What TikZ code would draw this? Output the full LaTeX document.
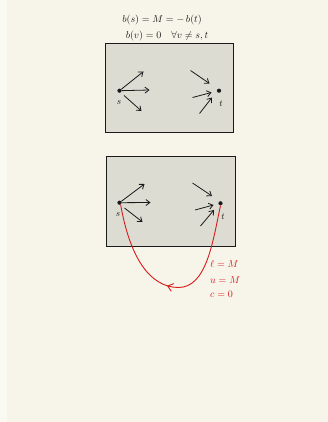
\documentclass[tikz,border=0pt]{standalone}
\usetikzlibrary{arrows.meta,decorations.markings}
\definecolor{paper}{HTML}{F7F5EA}
\definecolor{margin}{HTML}{FAF9F2}
\definecolor{boxfill}{HTML}{DCDCD3}
\definecolor{ink}{HTML}{1A1A1A}
\definecolor{redink}{HTML}{D81B1B}
\tikzset{
  panel/.style={draw=ink, line width=1pt, fill=boxfill},
  flow/.style={draw=ink, line width=0.8pt, -{Straight Barb[length=4pt,width=6pt]}},
  vertex/.style={circle, fill=ink, inner sep=0pt, minimum size=4.2pt},
  lbl/.style={font=\normalsize, text=ink, inner sep=0pt},
  redlbl/.style={font=\normalsize, text=redink, inner sep=0pt, anchor=west},
  circulation/.style={draw=redink, line width=0.9pt,
    postaction={decorate, decoration={markings,
      mark=at position 0.53 with {\arrow{Straight Barb[length=5pt,width=8pt]}}}}}
}
\begin{document}
\begin{tikzpicture}[x=1pt,y=-1pt]
  % sheet
  \fill[paper] (0,0) rectangle (328,422);
  \fill[margin] (0,0) rectangle (7,422);
  \useasboundingbox (0,0) rectangle (328,422);

  % supply / demand conditions
  \node[lbl] (eq1) at (162,20) {$b(s) = M = -\,b(t)$};
  \node[lbl] (eq2) at (167,36) {$b(v) = 0 \quad \forall v \neq s,t$};

  % upper network
  \draw[panel] (105,44) rectangle (233,133);
  \node[vertex] (s1) at (119.5,90.7) {};
  \node[vertex] (t1) at (219,90.7) {};
  \node[lbl, font=\small] (s1l) at (119,103) {$s$};
  \node[lbl, font=\small] (t1l) at (221,104) {$t$};
  \coordinate (a1) at (143.5,71.5);
  \coordinate (a2) at (149.5,90);
  \coordinate (a3) at (141.5,111);
  \draw[flow] (s1) -- (a1);
  \draw[flow] (s1) -- (a2);
  \draw[flow] (124,95.5) -- (a3);
  \coordinate (b1) at (190.5,70.5);
  \coordinate (b2) at (192.5,97.5);
  \coordinate (b3) at (199.5,113.5);
  \draw[flow] (b1) -- (209.5,83.5);
  \draw[flow] (b2) -- (211.5,92.5);
  \draw[flow] (b3) -- (212,97.5);

  % lower network with return edge
  \draw[panel] (106,156) rectangle (235,246);
  \node[vertex] (s2) at (119.5,202.7) {};
  \node[vertex] (t2) at (220.5,203.3) {};
  \node[lbl, font=\small] (s2l) at (118,215) {$s$};
  \node[lbl, font=\small] (t2l) at (223,217) {$t$};
  \coordinate (c1) at (144.5,184);
  \coordinate (c2) at (150.5,202.5);
  \coordinate (c3) at (142.5,222);
  \draw[flow] (s2) -- (c1);
  \draw[flow] (s2) -- (c2);
  \draw[flow] (124.5,208) -- (c3);
  \coordinate (d1) at (192.5,183);
  \coordinate (d2) at (195,210);
  \coordinate (d3) at (200.5,226);
  \draw[flow] (d1) -- (212,196);
  \draw[flow] (d2) -- (213.5,205);
  \draw[flow] (d3) -- (214,210);

  % return edge t -> s
  \draw[circulation] (t2.south) .. controls (213,240) and (207,288) .. (178,287.5)
        .. controls (150,287) and (130,258) .. (s2.-60);

  \node[redlbl] (lab1) at (210,264) {$\ell = M$};
  \node[redlbl] (lab2) at (210,280) {$u = M$};
  \node[redlbl] (lab3) at (210,294) {$c = 0$};
\end{tikzpicture}
\end{document}
